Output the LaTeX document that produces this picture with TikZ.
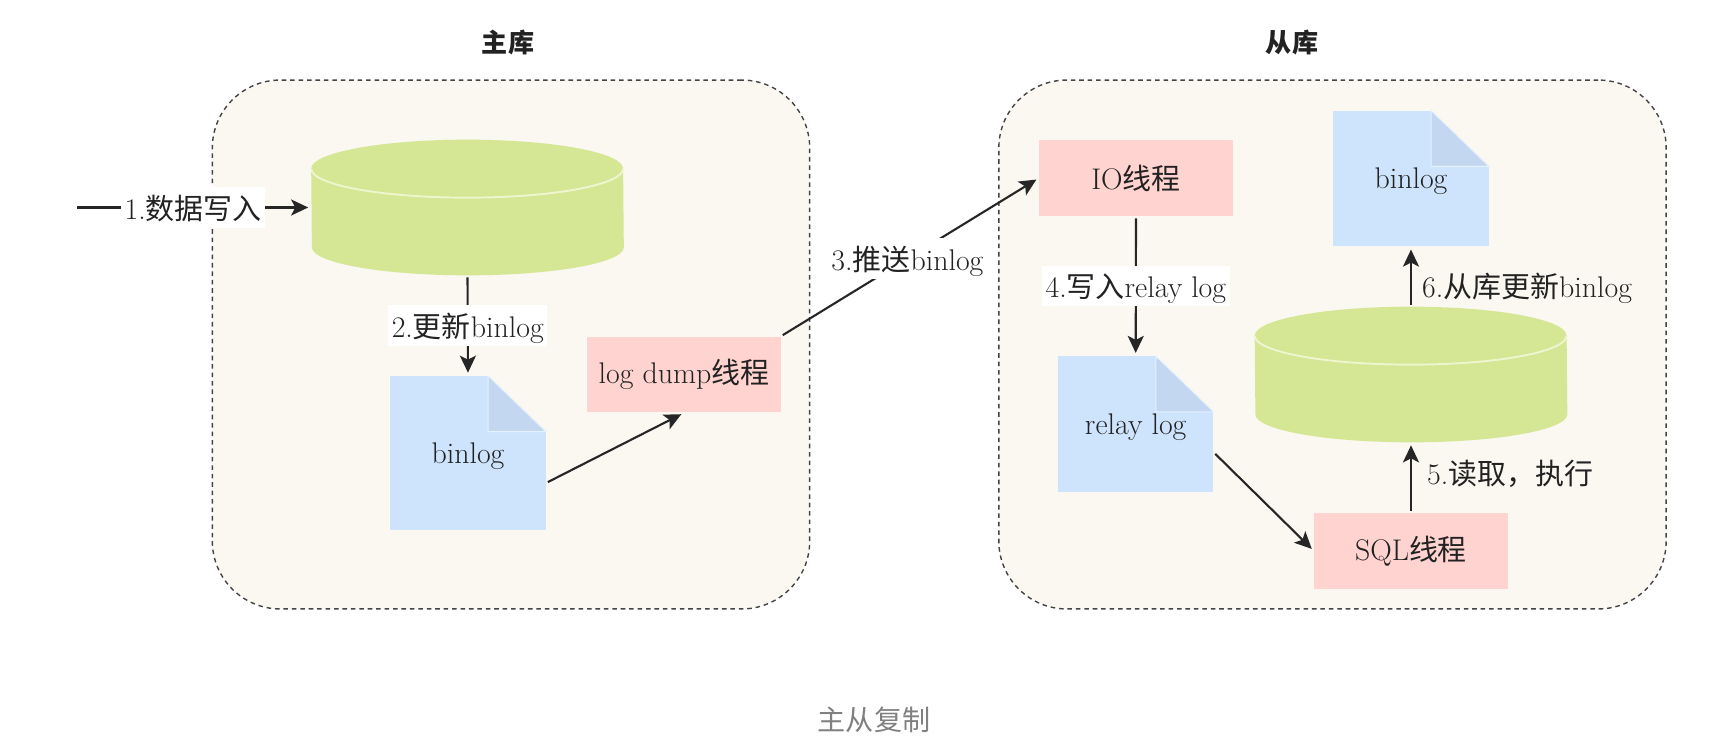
\documentclass[tikz,border=0pt]{standalone}
\usepackage{fontspec}
\newfontfamily\cjk[Scale=0.97]{Noto Sans CJK SC}
\usetikzlibrary{shapes.geometric, positioning, arrows.meta}
\definecolor{panelbg}{HTML}{FBF8F1}
\definecolor{panelline}{HTML}{444444}
\definecolor{dbgreen}{HTML}{D5E695}
\definecolor{rimgreen}{HTML}{EEF5CF}
\definecolor{docblue}{HTML}{CEE4FD}
\definecolor{foldblue}{HTML}{C3D8F0}
\definecolor{threadpink}{HTML}{FFD3D0}
\definecolor{captiongray}{HTML}{808080}
\definecolor{inktext}{HTML}{222222}
\tikzset{
  basefont/.style={font=\fontsize{17}{19}\selectfont, text=inktext},
  panelbox/.style={draw=panelline, dash pattern=on 2.6pt off 2.2pt, line width=.8pt, fill=panelbg, rounded corners=1.36cm, minimum width=#1, minimum height=10.58cm, inner sep=0pt},
  threadbox/.style={basefont, fill=threadpink, minimum width=3.87cm, minimum height=1.52cm, inner sep=0pt},
  docnote/.style={basefont, fill=docblue, text depth=0pt, minimum width=3.11cm, minimum height=#1, inner sep=0pt},
  dbstore/.style={minimum width=6.24cm, minimum height=2.7cm, inner sep=0pt},
  flowline/.style={line width=1.2pt, black!85},
  flowarrow/.style={flowline, -{Stealth[length=.34cm, width=.32cm, inset=.08cm]}, shorten >=.06cm, shorten <=.04cm},
  steplabel/.style={basefont, fill=white, text depth=0pt, inner xsep=.07cm, inner ysep=.17cm},
  plainlabel/.style={basefont, inner sep=0pt},
}
\newcommand{\docfold}[1]{
  \fill[panelbg] (#1.north east) -- ++(-58,0) -- ++(58,56) -- cycle;
  \filldraw[foldblue, draw=docblue!50!white, line width=.6pt] (#1.north east) ++(-58,0) -- ++(0,56) -- ++(58,0) -- cycle;
}
\newcommand{\dbbody}[1]{
  \fill[dbgreen] ([yshift=-.58cm]#1.north west) arc[start angle=180, end angle=0, x radius=3.12cm, y radius=.58cm] -- ([yshift=.56cm]#1.south east) arc[start angle=0, end angle=-180, x radius=3.12cm, y radius=.56cm] -- cycle;
  \draw[rimgreen, line width=1.1pt] ([yshift=-.58cm]#1.north west) arc[start angle=180, end angle=360, x radius=3.12cm, y radius=.58cm];
}
\begin{document}
\begin{tikzpicture}[x=.02cm, y=-.02cm]
\useasboundingbox (0,0) rectangle (1728,740);

\node[panelbox=11.95cm] (masterpanel) at (511,344.5) {};
\node[panelbox=13.35cm] (slavepanel) at (1332.5,344.5) {};

\node[font=\fontsize{15.3}{18}\selectfont, text=inktext] (mastertitle) at (508,43) {\cjk\bfseries 主库};
\node[font=\fontsize{15.3}{18}\selectfont, text=inktext] (slavetitle) at (1292,43) {\cjk\bfseries 从库};
\node[font=\fontsize{16.5}{18}\selectfont, text=captiongray] (caption) at (874,720) {\cjk 主从复制};

\node[dbstore] (dbmaster) at (467.5,207.5) {};
\dbbody{dbmaster}
\node[docnote=3.08cm] (binlogm) at (468,453) {binlog};
\docfold{binlogm}
\node[threadbox] (dump) at (684,374.5) {log dump{\cjk 线程}};

\node[threadbox] (iothread) at (1136,178) {IO{\cjk 线程}};
\node[docnote=2.71cm] (binlogs) at (1411,178.5) {binlog};
\docfold{binlogs}
\node[docnote=2.71cm] (relay) at (1135.7,424) {relay log};
\docfold{relay}
\node[dbstore] (dbslave) at (1411,374.5) {};
\dbbody{dbslave}
\node[threadbox] (sqlthread) at (1411,551) {SQL{\cjk 线程}};

\coordinate (client) at (75,207.5);
\draw[flowarrow] (client) to node[steplabel, pos=.5]{1.{\cjk 数据写入}} (dbmaster.west);
\draw[flowarrow] (dbmaster.south) to node[steplabel, pos=.5]{2.{\cjk 更新}binlog} (binlogm.north);
\draw[flowarrow] (binlogm.-21) to (dump.south);
\draw[flowarrow] (dump.north east) to node[steplabel, pos=.49]{3.{\cjk 推送}binlog} (iothread.west);
\draw[flowarrow] (iothread.south) to node[steplabel, pos=.5]{4.{\cjk 写入}relay log} (relay.north);
\draw[flowarrow] (relay.-20) to (sqlthread.west);
\draw[flowarrow] (sqlthread.north) to node[plainlabel, pos=.55, right=.3cm]{5.{\cjk 读取，执行}} (dbslave.south);
\draw[flowarrow] (dbslave.north) to node[plainlabel, pos=.31, right=.2cm]{6.{\cjk 从库更新}binlog} (binlogs.south);
\end{tikzpicture}
\end{document}
